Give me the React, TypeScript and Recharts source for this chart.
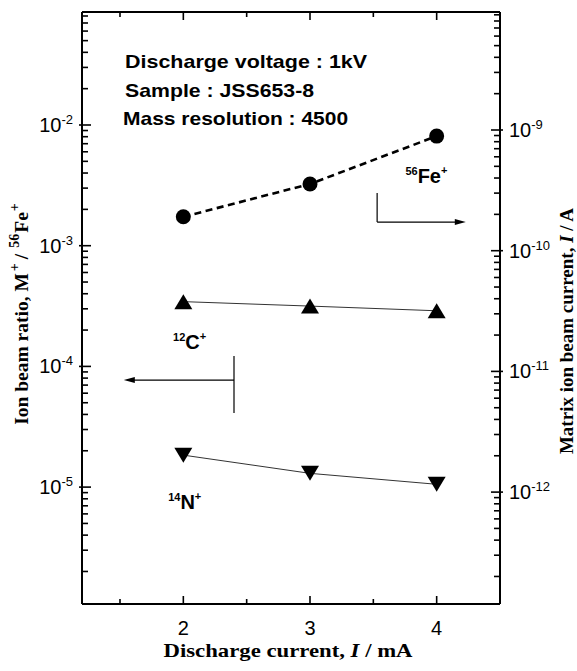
import React from 'react';
import { LineChart, Line, XAxis, YAxis, ReferenceLine, ReferenceDot } from 'recharts';

// discharge current (mA)
const CURRENT = [2, 3, 4];
// matrix ion beam current, 56Fe+ (A) - right axis
const FE_CURRENT = [1.91e-10, 3.57e-10, 8.9e-10];
// ion beam ratios M+/56Fe+ - left axis
const C_RATIO = [3.44e-4, 3.16e-4, 2.89e-4];
const N_RATIO = [1.84e-5, 1.3e-5, 1.055e-5];

const X_MAJOR = [2, 3, 4];
const X_MINOR = [1.5, 2.5, 3.5];
const LEFT_MAJOR = [1e-5, 1e-4, 1e-3, 1e-2];
const RIGHT_MAJOR = [1e-12, 1e-11, 1e-10, 1e-9];

const X_DOMAIN = [1.2, 4.5];
const LEFT_DOMAIN = [Math.pow(10, -5.9685), Math.pow(10, -1.0638)];
const RIGHT_DOMAIN = [Math.pow(10, -12.9271), Math.pow(10, -8.0224)];

const INFO_LINES = ['Discharge voltage : 1kV', 'Sample : JSS653-8', 'Mass resolution : 4500'];

// annotation anchors (data units, left axis)
const INFO_POS = { x: 1.54, y: 2.96e-2 };
const FE_LABEL_POS = { x: 3.753, y: 3.31e-3 };
const C_LABEL_POS = { x: 1.919, y: 1.39e-4 };
const N_LABEL_POS = { x: 1.88, y: 6.59e-6 };
const FE_ARROW = { x: 3.53, yTop: 2.73e-3, y: 1.57e-3, tipX: 4.23 };
const C_ARROW = { x: 2.4, yTop: 1.22e-4, yBottom: 4.11e-5, y: 7.7e-5, tipX: 1.53 };

const SANS = '"Liberation Sans", Arial, sans-serif';
const SERIF = '"Liberation Serif", "Times New Roman", serif';
const TICK_W = 1.6;

const data = CURRENT.map((x, i) => ({ x, fe: FE_CURRENT[i], c: C_RATIO[i], n: N_RATIO[i] }));

// minor log ticks (2..9 x 10^n) inside a domain
function logMinors(domain: number[]) {
  const [lo, hi] = domain;
  const out: number[] = [];
  for (let e = Math.floor(Math.log10(lo)); e <= Math.ceil(Math.log10(hi)); e++) {
    for (let m = 2; m <= 9; m++) {
      const v = m * Math.pow(10, e);
      if (v >= lo && v <= hi) out.push(v);
    }
  }
  return out;
}

const isMajor = (v: number, majors: number[]) => majors.some((m) => Math.abs(m - v) / m < 1e-6);

const X_TICKS = [...X_MINOR, ...X_MAJOR].sort((a, b) => a - b);
const LEFT_TICKS = [...logMinors(LEFT_DOMAIN), ...LEFT_MAJOR].sort((a, b) => a - b);
const RIGHT_TICKS = [...logMinors(RIGHT_DOMAIN), ...RIGHT_MAJOR].sort((a, b) => a - b);

function Pow10({ x, y, exp, anchor }: any) {
  return (
    <text x={x} y={y} textAnchor={anchor} fontFamily={SANS} fontSize={20} fill="#000">
      <tspan>10</tspan>
      <tspan dy={-8} fontSize={13}>{exp}</tspan>
    </text>
  );
}

function BottomTick(props: any) {
  const { x, y, payload } = props;
  const major = X_MAJOR.includes(payload.value);
  return (
    <g>
      <line x1={x} y1={y} x2={x} y2={y - (major ? 8 : 5)} stroke="#000" strokeWidth={TICK_W} />
      {major && (
        <text x={x} y={y + 31} textAnchor="middle" fontFamily={SANS} fontSize={20} fill="#000">
          {payload.value}
        </text>
      )}
    </g>
  );
}

function TopTick(props: any) {
  const { x, y, payload } = props;
  const major = X_MAJOR.includes(payload.value);
  return <line x1={x} y1={y} x2={x} y2={y + (major ? 8 : 5)} stroke="#000" strokeWidth={TICK_W} />;
}

function LeftTick(props: any) {
  const { x, y, payload } = props;
  const major = isMajor(payload.value, LEFT_MAJOR);
  return (
    <g>
      <line x1={major ? x - 3 : x} y1={y} x2={x + (major ? 9 : 6)} y2={y} stroke="#000" strokeWidth={TICK_W} />
      {major && <Pow10 x={x - 9} y={y + 7} exp={Math.round(Math.log10(payload.value))} anchor="end" />}
    </g>
  );
}

function RightTick(props: any) {
  const { x, y, payload } = props;
  const major = isMajor(payload.value, RIGHT_MAJOR);
  return (
    <g>
      <line x1={major ? x + 3 : x} y1={y} x2={x - (major ? 9 : 6)} y2={y} stroke="#000" strokeWidth={TICK_W} />
      {major && <Pow10 x={x + 9} y={y + 7} exp={Math.round(Math.log10(payload.value))} anchor="start" />}
    </g>
  );
}

function CircleDot(props: any) {
  const { cx, cy } = props;
  return <circle cx={cx} cy={cy} r={7.5} fill="#000" />;
}

function TriUp(props: any) {
  const { cx, cy } = props;
  return <polygon points={`${cx},${cy - 7.5} ${cx - 9},${cy + 7.5} ${cx + 9},${cy + 7.5}`} fill="#000" />;
}

function TriDown(props: any) {
  const { cx, cy } = props;
  return <polygon points={`${cx - 9},${cy - 7.5} ${cx + 9},${cy - 7.5} ${cx},${cy + 7.5}`} fill="#000" />;
}

function PlainSeg(props: any) {
  const { x1, y1, x2, y2 } = props;
  return <line x1={x1} y1={y1} x2={x2} y2={y2} stroke="#000" strokeWidth={1.2} />;
}

function ArrowSeg(props: any) {
  const { x1, y1, x2, y2 } = props;
  const dir = Math.sign(x2 - x1) || 1;
  return (
    <g>
      <line x1={x1} y1={y1} x2={x2 - dir * 6} y2={y2} stroke="#000" strokeWidth={1.2} />
      <polygon points={`${x2},${y2} ${x2 - dir * 11},${y2 - 3} ${x2 - dir * 11},${y2 + 3}`} fill="#000" />
    </g>
  );
}

function IonLabel({ cx, cy, mass, symbol }: any) {
  return (
    <text x={cx} y={cy} fontFamily={SANS} fontWeight="bold" fontSize={20} fill="#000">
      <tspan fontSize={11} dy={-8}>{mass}</tspan>
      <tspan dy={8}>{symbol}</tspan>
      <tspan fontSize={11} dy={-9}>+</tspan>
    </text>
  );
}

const INFO_WIDTHS = [242, 189, 225];
const INFO_STEP = [0, 29, 57];
const INFO_SHIFT = [0, 0, -2];

function InfoBlock({ cx, cy }: any) {
  return (
    <g>
      {INFO_LINES.map((t, i) => (
        <text
          key={t}
          x={cx + INFO_SHIFT[i]}
          y={cy + INFO_STEP[i]}
          fontFamily={SANS}
          fontWeight="bold"
          fontSize={19}
          textLength={INFO_WIDTHS[i]}
          lengthAdjust="spacingAndGlyphs"
          fill="#000"
        >
          {t}
        </text>
      ))}
    </g>
  );
}

function BottomTitle(props: any) {
  const vb = props.viewBox || { x: 82, y: 604, width: 418, height: 67 };
  return (
    <text
      x={vb.x + vb.width / 2 - 3}
      y={vb.y + 53}
      textAnchor="middle"
      fontFamily={SERIF}
      fontWeight="bold"
      fontSize={19.5}
      textLength={249}
      lengthAdjust="spacingAndGlyphs"
      fill="#000"
    >
      Discharge current,{'  '}
      <tspan fontStyle="italic">I</tspan> / mA
    </text>
  );
}

function LeftTitle(props: any) {
  const vb = props.viewBox || { x: 0, y: 12, width: 82, height: 592 };
  const x = vb.x + 28;
  const y = vb.y + vb.height / 2 + 6;
  return (
    <text x={x} y={y} transform={`rotate(-90, ${x}, ${y})`} textAnchor="middle" fontFamily={SERIF} fontWeight="bold" fontSize={19.5} fill="#000">
      Ion beam ratio,{'  '}M
      <tspan fontSize={14} dy={-9} dx={2}>+</tspan>
      <tspan dy={9} dx={4}>/</tspan>
      <tspan fontSize={14} dy={-9} dx={6}>56</tspan>
      <tspan dy={9} dx={1}>Fe</tspan>
      <tspan fontSize={14} dy={-9} dx={1}>+</tspan>
    </text>
  );
}

function RightTitle(props: any) {
  const vb = props.viewBox || { x: 500, y: 12, width: 77, height: 592 };
  const x = vb.x + 73;
  const y = vb.y + vb.height / 2 + 23;
  return (
    <text x={x} y={y} transform={`rotate(-90, ${x}, ${y})`} textAnchor="middle" fontFamily={SERIF} fontWeight="bold" fontSize={19} fill="#000">
      Matrix ion beam current,{'  '}
      <tspan fontStyle="italic">I</tspan> / A
    </text>
  );
}

export default function App() {
  return (
    <div style={{ position: 'absolute', left: 0, top: 0, width: 577, height: 671, background: '#fff' }}>
      <LineChart width={577} height={671} data={data} margin={{ top: 0, right: 0, bottom: 0, left: 0 }}>
        <XAxis
          xAxisId="bottom"
          dataKey="x"
          type="number"
          domain={X_DOMAIN}
          ticks={X_TICKS}
          interval={0}
          height={67}
          allowDataOverflow
          axisLine={{ stroke: '#000', strokeWidth: 2 }}
          tickLine={false}
          tickSize={0}
          tickMargin={0}
          tick={(p: any) => <BottomTick {...p} />}
          label={{ content: (p: any) => <BottomTitle {...p} /> }}
        />
        <XAxis
          xAxisId="top"
          orientation="top"
          dataKey="x"
          type="number"
          domain={X_DOMAIN}
          ticks={X_TICKS}
          interval={0}
          height={12}
          allowDataOverflow
          axisLine={{ stroke: '#000', strokeWidth: 2 }}
          tickLine={false}
          tickSize={0}
          tickMargin={0}
          tick={(p: any) => <TopTick {...p} />}
        />
        <YAxis
          yAxisId="left"
          type="number"
          scale="log"
          domain={LEFT_DOMAIN}
          ticks={LEFT_TICKS}
          interval={0}
          width={82}
          allowDataOverflow
          axisLine={{ stroke: '#000', strokeWidth: 2 }}
          tickLine={false}
          tickSize={0}
          tickMargin={0}
          tick={(p: any) => <LeftTick {...p} />}
          label={{ content: (p: any) => <LeftTitle {...p} /> }}
        />
        <YAxis
          yAxisId="right"
          orientation="right"
          type="number"
          scale="log"
          domain={RIGHT_DOMAIN}
          ticks={RIGHT_TICKS}
          interval={0}
          width={77}
          allowDataOverflow
          axisLine={{ stroke: '#000', strokeWidth: 2 }}
          tickLine={false}
          tickSize={0}
          tickMargin={0}
          tick={(p: any) => <RightTick {...p} />}
          label={{ content: (p: any) => <RightTitle {...p} /> }}
        />

        <Line
          xAxisId="bottom"
          yAxisId="left"
          dataKey="c"
          stroke="#333"
          strokeWidth={1}
          dot={(p: any) => <TriUp key={`c-${p.index}`} {...p} />}
          activeDot={false}
          isAnimationActive={false}
        />
        <Line
          xAxisId="bottom"
          yAxisId="left"
          dataKey="n"
          stroke="#333"
          strokeWidth={1}
          dot={(p: any) => <TriDown key={`n-${p.index}`} {...p} />}
          activeDot={false}
          isAnimationActive={false}
        />
        <Line
          xAxisId="bottom"
          yAxisId="right"
          dataKey="fe"
          stroke="#000"
          strokeWidth={2.6}
          strokeDasharray="7 4.5"
          dot={(p: any) => <CircleDot key={`fe-${p.index}`} {...p} />}
          activeDot={false}
          isAnimationActive={false}
        />

        <ReferenceLine
          xAxisId="bottom"
          yAxisId="left"
          segment={[{ x: FE_ARROW.x, y: FE_ARROW.yTop }, { x: FE_ARROW.x, y: FE_ARROW.y }]}
          shape={(p: any) => <PlainSeg {...p} />}
        />
        <ReferenceLine
          xAxisId="bottom"
          yAxisId="left"
          segment={[{ x: FE_ARROW.x, y: FE_ARROW.y }, { x: FE_ARROW.tipX, y: FE_ARROW.y }]}
          shape={(p: any) => <ArrowSeg {...p} />}
        />
        <ReferenceLine
          xAxisId="bottom"
          yAxisId="left"
          segment={[{ x: C_ARROW.x, y: C_ARROW.yTop }, { x: C_ARROW.x, y: C_ARROW.yBottom }]}
          shape={(p: any) => <PlainSeg {...p} />}
        />
        <ReferenceLine
          xAxisId="bottom"
          yAxisId="left"
          segment={[{ x: C_ARROW.x, y: C_ARROW.y }, { x: C_ARROW.tipX, y: C_ARROW.y }]}
          shape={(p: any) => <ArrowSeg {...p} />}
        />

        <ReferenceDot xAxisId="bottom" yAxisId="left" x={INFO_POS.x} y={INFO_POS.y} r={0} shape={(p: any) => <InfoBlock {...p} />} />
        <ReferenceDot xAxisId="bottom" yAxisId="left" x={FE_LABEL_POS.x} y={FE_LABEL_POS.y} r={0} shape={(p: any) => <IonLabel {...p} mass="56" symbol="Fe" />} />
        <ReferenceDot xAxisId="bottom" yAxisId="left" x={C_LABEL_POS.x} y={C_LABEL_POS.y} r={0} shape={(p: any) => <IonLabel {...p} mass="12" symbol="C" />} />
        <ReferenceDot xAxisId="bottom" yAxisId="left" x={N_LABEL_POS.x} y={N_LABEL_POS.y} r={0} shape={(p: any) => <IonLabel {...p} mass="14" symbol="N" />} />
      </LineChart>
    </div>
  );
}
